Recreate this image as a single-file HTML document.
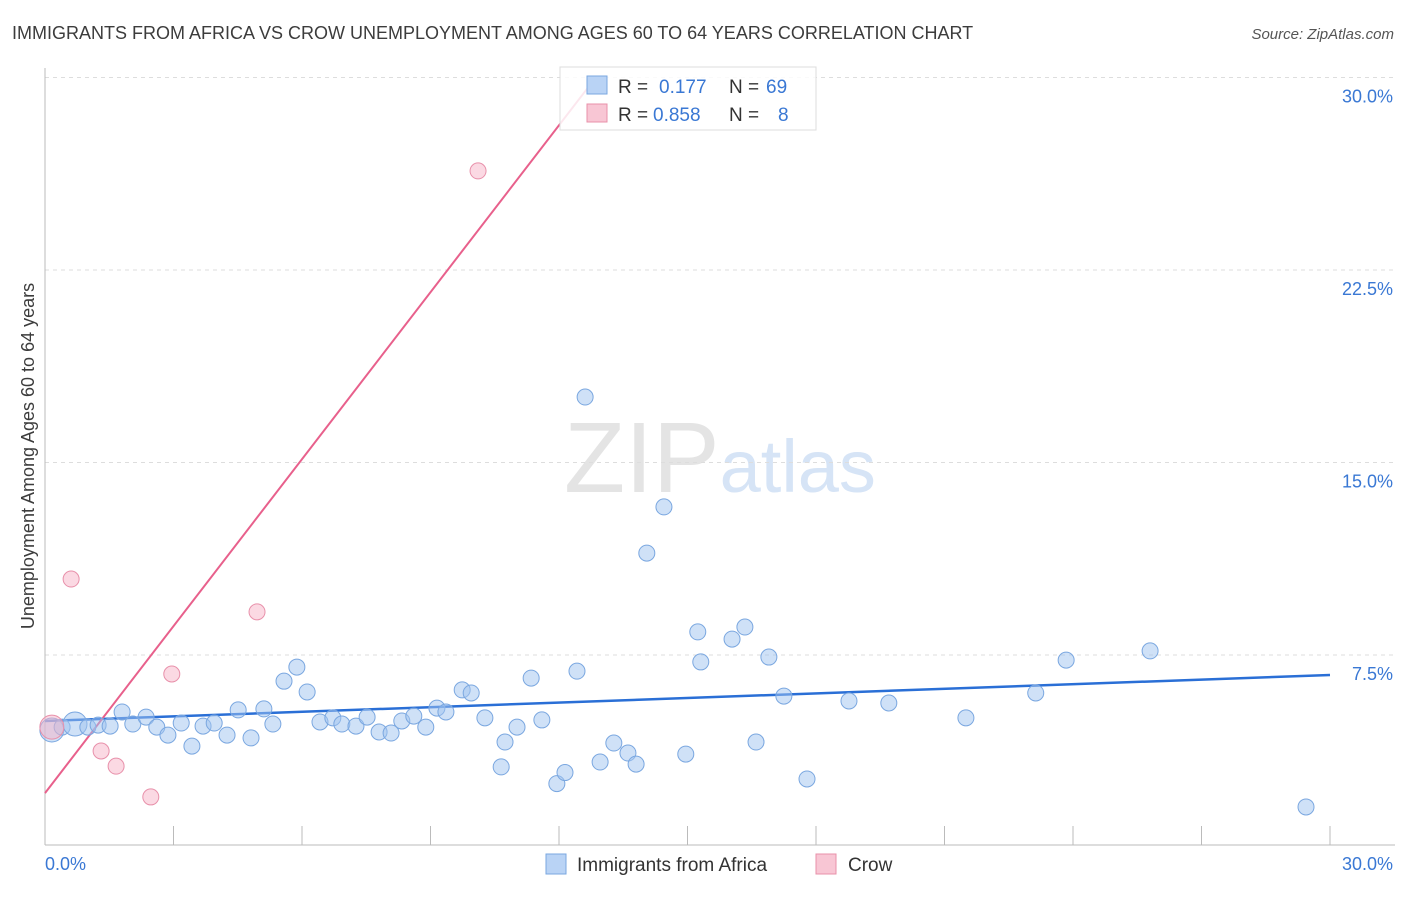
<!DOCTYPE html>
<html><head><meta charset="utf-8"><style>
body{margin:0;background:#fff;font-family:"Liberation Sans",sans-serif;}
svg text{font-family:"Liberation Sans",sans-serif;}
</style></head><body>
<svg id="chart" width="1406" height="892" xmlns="http://www.w3.org/2000/svg">
<text x="12" y="39" font-size="18" fill="#3c3c3c">IMMIGRANTS FROM AFRICA VS CROW UNEMPLOYMENT AMONG AGES 60 TO 64 YEARS CORRELATION CHART</text>
<text x="1394" y="39" font-size="15" fill="#555" text-anchor="end" font-style="italic">Source: ZipAtlas.com</text>
<text x="720" y="492" font-size="100" text-anchor="middle" fill="#e4e4e4" font-family="Liberation Serif">ZIP<tspan fill="#d6e4f6" font-family="Liberation Sans" font-size="74">atlas</tspan></text>
<text transform="translate(34,456) rotate(-90)" font-size="18" fill="#3c3c3c" text-anchor="middle">Unemployment Among Ages 60 to 64 years</text>
<g id="grid"></g><g id="axes"></g><g id="lines"></g><g id="points"></g>
<g>
<rect x="560" y="67" width="256" height="63" fill="#fff" fill-opacity="0.85" stroke="#ddd"/>
<rect x="587" y="76" width="20" height="18" fill="#b9d3f5" stroke="#7aa7e0"/>
<text x="618" y="93" font-size="19" fill="#333">R = </text><text x="659" y="93" font-size="19" fill="#3a78d4">0.177</text>
<text x="729" y="93" font-size="19" fill="#333">N = </text><text x="766" y="93" font-size="19" fill="#3a78d4">69</text>
<rect x="587" y="104" width="20" height="18" fill="#f8c6d4" stroke="#e890aa"/>
<text x="618" y="121" font-size="19" fill="#333">R = </text><text x="653" y="121" font-size="19" fill="#3a78d4">0.858</text>
<text x="729" y="121" font-size="19" fill="#333">N = </text><text x="778" y="121" font-size="19" fill="#3a78d4">8</text>
</g>
<g>
<rect x="546" y="854" width="20" height="20" fill="#b9d3f5" stroke="#7aa7e0"/>
<text x="577" y="871" font-size="19" fill="#333">Immigrants from Africa</text>
<rect x="816" y="854" width="20" height="20" fill="#f8c6d4" stroke="#e890aa"/>
<text x="848" y="871" font-size="19" fill="#333">Crow</text>
</g>
</svg>
<script>
const xTicks=[0,3,6,9,12,15,18,21,24,27,30];
const yTicks=[7.5,15,22.5,30];
const yTickLabels=["7.5%","15.0%","22.5%","30.0%"];
const blueX=[0.16,0.40,0.70,1.00,1.24,1.52,1.80,2.05,2.36,2.61,2.87,3.18,3.43,3.69,3.95,4.25,4.51,4.81,5.11,5.32,5.58,5.88,6.12,6.42,6.72,6.93,7.26,7.52,7.80,8.08,8.33,8.61,8.89,9.15,9.36,9.74,9.95,10.27,10.65,10.74,11.02,11.35,11.60,11.95,12.14,12.42,12.61,12.96,13.28,13.61,13.80,14.05,14.45,14.96,15.24,15.31,16.04,16.34,16.60,16.90,17.25,17.79,18.77,19.70,21.50,23.13,23.84,25.80,29.44];
const blueY=[4.58,4.69,4.81,4.69,4.77,4.73,5.28,4.81,5.08,4.69,4.38,4.85,3.95,4.73,4.85,4.38,5.36,4.27,5.40,4.81,6.48,7.03,6.06,4.89,5.05,4.81,4.73,5.08,4.50,4.46,4.93,5.12,4.69,5.43,5.28,6.14,6.02,5.05,3.14,4.11,4.69,6.60,4.97,2.49,2.92,6.87,17.55,3.33,4.07,3.68,3.25,11.47,13.27,3.64,8.40,7.23,8.12,8.59,4.11,7.42,5.90,2.67,5.71,5.63,5.05,6.02,7.30,7.66,1.58];
const blueBig=[1,0,1];
const pinkX=[0.16,0.61,1.31,1.66,2.47,2.96,4.95,10.11];
const pinkY=[4.69,10.46,3.76,3.17,1.97,6.76,9.18,26.36];
const blueTrend=[[0,4.93],[30,6.72]];
const pinkTrend=[[0,2.12],[12.72,29.7]];
const NS="http://www.w3.org/2000/svg";
const sx=v=>45+v/30*1285;
const sy=v=>847.5-v/7.5*192.5;
function mk(tag,attrs,parent){const e=document.createElementNS(NS,tag);for(const k in attrs)e.setAttribute(k,attrs[k]);document.getElementById(parent).appendChild(e);return e;}
yTicks.forEach((t,i)=>{
 const g=mk('line',{x1:45,x2:1395,y1:sy(t),y2:sy(t),stroke:'#ddd','stroke-dasharray':'4,4'},'grid');
 
 
 const l=mk('text',{x:1393,y:sy(t)+25,'font-size':18,fill:'#3a78d4','text-anchor':'end'},'axes');
 l.textContent=yTickLabels[i];
 
 
});
const ax=mk('line',{x1:45,x2:1395,y1:845,y2:845,stroke:'#bbb'},'axes');


const ay=mk('line',{x1:45,x2:45,y1:68,y2:845,stroke:'#bbb'},'axes');


xTicks.forEach(t=>{
 const tk=mk('line',{x1:sx(t),x2:sx(t),y1:826,y2:845,stroke:'#bbb'},'axes');
 
 
});
const xl0=mk('text',{x:45,y:870,'font-size':18,fill:'#3a78d4'},'axes');xl0.textContent=xTicks[0].toFixed(1)+'%';


const xl1=mk('text',{x:1393,y:870,'font-size':18,fill:'#3a78d4','text-anchor':'end'},'axes');xl1.textContent=xTicks[xTicks.length-1].toFixed(1)+'%';


blueX.forEach((x,i)=>{
 const c=mk('circle',{cx:sx(x),cy:sy(blueY[i]),r:blueBig[i]?12:8,fill:'rgba(160,196,240,0.5)',stroke:'#7aa7e0','stroke-width':1},'points');
 
 
});
pinkX.forEach((x,i)=>{
 const c=mk('circle',{cx:sx(x),cy:sy(pinkY[i]),r:i==0?12:8,fill:'rgba(248,180,200,0.5)',stroke:'#e890aa','stroke-width':1},'points');
 
 
});
const bl=mk('line',{x1:sx(blueTrend[0][0]),y1:sy(blueTrend[0][1]),x2:sx(blueTrend[1][0]),y2:sy(blueTrend[1][1]),stroke:'#2a6fd6','stroke-width':2.5},'lines');


const pl=mk('line',{x1:sx(pinkTrend[0][0]),y1:sy(pinkTrend[0][1]),x2:sx(pinkTrend[1][0]),y2:sy(pinkTrend[1][1]),stroke:'#e8608c','stroke-width':2},'lines');


</script>
</body></html>
